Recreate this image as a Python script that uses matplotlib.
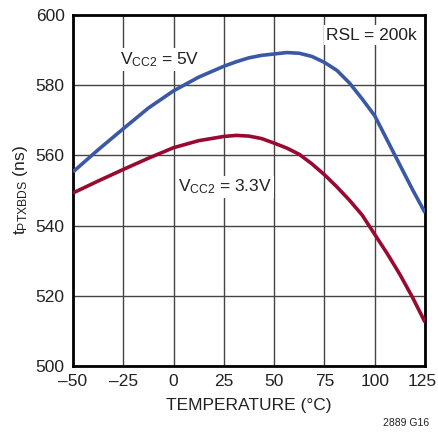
import matplotlib
matplotlib.use("Agg")
import matplotlib.pyplot as plt
import matplotlib.transforms as mtransforms

temps = [-50, -37.5, -25, -12.5, 0, 12.5, 25, 31.25, 37.5, 43.75, 50, 56.25, 62.5, 68.75,
         75, 81.25, 87.5, 93.75, 100, 106.25, 112.5, 118.75, 125]
vcc5 = [555.3, 561.6, 567.6, 573.5, 578.4, 582.3, 585.4, 586.7, 587.8, 588.5, 588.9, 589.3,
        589.1, 588.2, 586.5, 584.2, 580.6, 576.1, 571.3, 564.3, 557.3, 550.3, 543.7]
vcc33 = [549.3, 552.7, 556.0, 559.2, 562.2, 564.2, 565.4, 565.7, 565.5, 564.8, 563.5, 562.1,
         560.3, 557.6, 554.5, 551.0, 547.2, 543.0, 537.5, 532.0, 526.1, 519.6, 512.5]
xticks = [-50, -25, 0, 25, 50, 75, 100, 125]
yticks = [500, 520, 540, 560, 580, 600]

plt.rcParams['font.family'] = ['Liberation Sans', 'DejaVu Sans']
plt.rcParams['mathtext.fontset'] = 'custom'
plt.rcParams['mathtext.rm'] = 'Liberation Sans'

FS = 12.5
TC = '#222222'

fig = plt.figure(figsize=(4.38, 4.34), dpi=100)
ax = fig.add_axes([73/438, 68/434, 352/438, 351/434])

ax.plot(temps, vcc5, color='#3a58a6', lw=2.6, solid_capstyle='butt',
        solid_joinstyle='round', zorder=3)
ax.plot(temps, vcc33, color='#990a32', lw=2.6, solid_capstyle='butt',
        solid_joinstyle='round', zorder=3)

ax.set_xlim(-50, 125)
ax.set_ylim(500, 600)
ax.set_xticks(xticks)
ax.set_yticks(yticks)
ax.set_xticklabels([str(t).replace('-', '\u2013') for t in xticks])
ax.grid(True, color='#444444', lw=1.0)
ax.tick_params(length=0, labelsize=FS, pad=6, colors=TC)
for s in ax.spines.values():
    s.set_linewidth(2)
    s.set_color('black')

# nudge the last x tick label inward so it stays within the figure
last = ax.get_xticklabels()[-1]
last.set_transform(last.get_transform() +
                   mtransforms.ScaledTranslation(-3/100, 0, fig.dpi_scale_trans))

ax.set_xlabel('TEMPERATURE (°C)', fontsize=FS, color=TC, labelpad=6)
ax.set_ylabel(r'$\mathregular{t_{PTXBDS}}$ (ns)', fontsize=FS, color=TC, labelpad=4)

bb = dict(facecolor='white', edgecolor='none', pad=1.5)
ax.text(-26.8, 587.2, r'$\mathregular{V_{CC2}}$ = 5V', fontsize=FS, color=TC, bbox=bb,
        va='center', ha='left', zorder=2)
ax.text(2.0, 551.0, r'$\mathregular{V_{CC2}}$ = 3.3V', fontsize=FS, color=TC, bbox=bb,
        va='center', ha='left', zorder=2)
ax.text(121, 594.3, 'RSL = 200k', fontsize=FS, color=TC, bbox=bb,
        va='center', ha='right', zorder=2)

fig.text(429/438, 1 - 423/434, '2889 G16', fontsize=7.5, color=TC, ha='right', va='center')

fig.savefig('out.png', dpi=100)
